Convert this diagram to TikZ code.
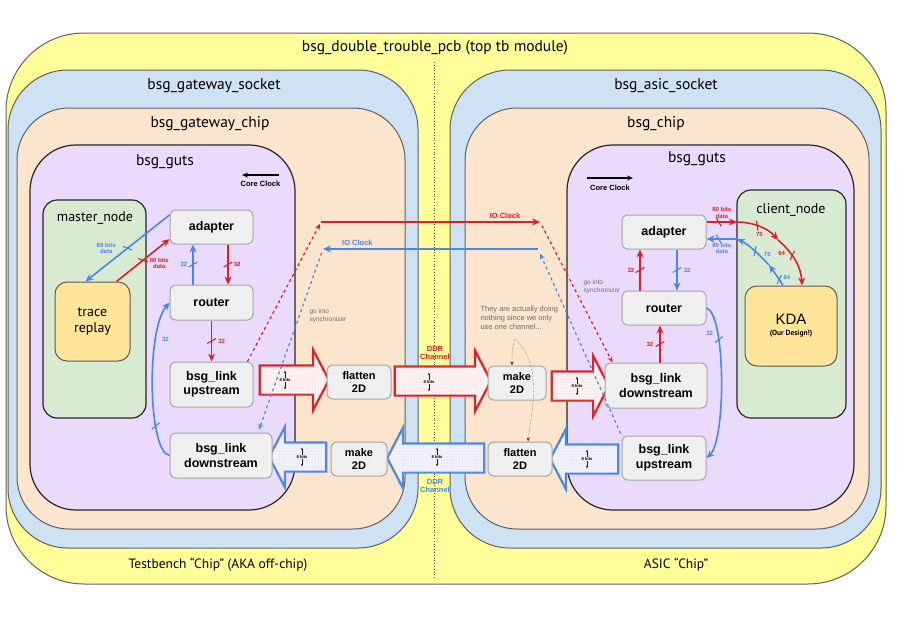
\documentclass[tikz,border=0pt]{standalone}
\usepackage{fontspec}
\setmainfont{Liberation Sans}
\newfontfamily\titlefont{PT Sans}
\usetikzlibrary{arrows.meta,shapes.arrows,patterns}
\definecolor{pcbyellow}{RGB}{255,255,153}
\definecolor{socketblue}{RGB}{207,226,243}
\definecolor{chippeach}{RGB}{252,229,205}
\definecolor{gutspurple}{RGB}{234,219,252}
\definecolor{nodegreen}{RGB}{217,234,211}
\definecolor{kdayellow}{RGB}{255,229,153}
\definecolor{boxgray}{RGB}{239,239,239}
\definecolor{linkred}{RGB}{224,30,40}
\definecolor{linkblue}{RGB}{74,134,232}
\definecolor{notegray}{RGB}{110,110,110}
\tikzset{
    layer/.style = {
        draw = gray!75!black,
        line width = 1pt,
        },
    guts layer/.style = {
        draw = black!85,
        line width = 1.2pt,
        fill = gutspurple,
        rounded corners = 46pt,
        },
    title/.style = {
        font = \titlefont\fontsize{15.5}{17}\selectfont,
        },
    cluster/.style = {
        draw = black!85,
        line width = 1.2pt,
        fill = nodegreen,
        rounded corners = 14pt,
        },
    inner block/.style = {
        draw = gray!70!black,
        line width = 1pt,
        fill = kdayellow,
        rounded corners = 12pt,
        align = center,
        },
    block/.style = {
        draw = gray!70,
        fill = boxgray,
        line width = 1pt,
        rounded corners = 6pt,
        inner sep = 0pt,
        align = center,
        font = \bfseries\fontsize{12.5}{14.5}\selectfont,
        },
    small block/.style = {
        block,
        font = \bfseries\fontsize{11}{13}\selectfont,
        },
    red link/.style = {
        color = linkred,
        line width = 1.6pt,
        -{Stealth[length=8pt,width=7pt]},
        },
    blue link/.style = {
        color = linkblue,
        line width = 1.6pt,
        -{Stealth[length=8pt,width=7pt]},
        },
    red sync/.style = {
        color = linkred,
        dashed,
        line width = 1.2pt,
        -{Stealth[length=6pt,width=5pt]},
        },
    blue sync/.style = {
        color = linkblue,
        dashed,
        line width = 1.2pt,
        -{Stealth[length=6pt,width=5pt]},
        },
    bus tick/.style = {
        draw,
        sloped,
        inner sep = 0pt,
        minimum width = 0pt,
        minimum height = 10pt,
        rotate = 30,
        line width = 1.1pt,
        },
    bus label/.style = {
        font = \bfseries\fontsize{6}{6.5}\selectfont,
        inner sep = 1pt,
        align = center,
        },
    clock label/.style = {
        font = \bfseries\fontsize{7.5}{8}\selectfont,
        inner sep = 1pt,
        align = center,
        },
    note/.style = {
        text = notegray,
        font = \fontsize{6.5}{8}\selectfont,
        align = left,
        anchor = west,
        },
    fat/.style = {
        single arrow,
        inner xsep = 0pt,
        inner ysep = 13.5pt,
        single arrow head extend = 15.5pt,
        single arrow tip angle = 125,
        line width = 2.2pt,
        },
    fat red/.style = {
        fat,
        draw = linkred,
        fill = red!5,
        postaction = {pattern = dots, pattern color = gray!45},
        },
    fat blue/.style = {
        fat,
        draw = linkblue,
        fill = blue!5,
        postaction = {pattern = dots, pattern color = gray!45},
        shape border rotate = 180,
        },
    width label/.style = {
        font = \bfseries\fontsize{4.2}{5}\selectfont,
        inner sep = 0.6pt,
        },
    width arrow/.style = {
        gray!20!black,
        line width = 0.4pt,
        -{Stealth[length=2.5pt,width=2pt]},
        },
}

\begin{document}
\begin{tikzpicture}[x=1pt, y=-1pt]
    \useasboundingbox (0,0) rectangle (909,616);

    % nested modules
    \draw[layer, fill=pcbyellow, rounded corners=78pt] (6,33) rectangle (886,584);
    \draw[layer, fill=socketblue, rounded corners=60pt] (8,70) rectangle (418,548);
    \draw[layer, fill=socketblue, rounded corners=60pt] (450,70) rectangle (881,548);
    \draw[layer, fill=chippeach, rounded corners=52pt] (17,108) rectangle (405,529);
    \draw[layer, fill=chippeach, rounded corners=52pt] (465,108) rectangle (869,529);
    \draw[guts layer] (30,145) rectangle (295,510);
    \draw[guts layer] (567,145) rectangle (854,510);
    \draw[dotted, line width=0.8pt, gray!60!black] (434,62) -- (434,578);

    \node[title] (pcb) at (435,48) {bsg\_double\_trouble\_pcb (top tb module)};
    \node[title] (gwsocket) at (214,86) {bsg\_gateway\_socket};
    \node[title] (asicsocket) at (666,86) {bsg\_asic\_socket};
    \node[title] (gwchip) at (210,124) {bsg\_gateway\_chip};
    \node[title] (asicchip) at (656,124) {bsg\_chip};
    \node[title] (gutsL) at (165,162) {bsg\_guts};
    \node[title] (gutsR) at (697,159) {bsg\_guts};
    \node[title, font=\titlefont\fontsize{13.5}{15}\selectfont] (offchip) at (218,565) {Testbench “Chip” (AKA off-chip)};
    \node[title, font=\titlefont\fontsize{13.5}{15}\selectfont] (onchip) at (676,565) {ASIC “Chip”};

    % fat channel arrows
    \node[fat red, minimum height=69pt] (fa1) at (290.5,380) {};
    \node[fat red, minimum height=96pt] (fa2) at (439,381) {};
    \node[fat red, minimum height=57pt] (fa3) at (576.5,386) {};
    \node[fat blue, minimum height=57pt] (fa4) at (301.5,457) {};
    \node[fat blue, minimum height=97pt] (fa5) at (439.5,458) {};
    \node[fat blue, minimum height=68pt] (fa6) at (588,459) {};
    \foreach \n/\x/\y in {w1/285/380, w2/429/382, w3/577/386, w4/302/457, w5/437/457, w6/587/459} {
        \node[width label] (\n) at (\x,\y) {8 bits};
        \draw[width arrow] (\n.north) -- ++(0,-7);
        \draw[width arrow] (\n.south) -- ++(0,7);
    }
    \node[clock label, text=linkred] (ddrR) at (435,353) {DDR\\Channel};
    \node[clock label, text=linkblue] (ddrB) at (435,486) {DDR\\Channel};

    % gateway side
    \node[cluster, minimum width=103pt, minimum height=218pt] (master) at (94.5,309) {};
    \node[title, font=\titlefont\fontsize{14}{15}\selectfont] (masterT) at (95,218) {master\_node};
    \node[inner block, minimum width=75pt, minimum height=79pt, font=\titlefont\fontsize{14}{16}\selectfont] (trace) at (92.5,321.5) {trace\\replay};
    \node[block, minimum width=83pt, minimum height=34pt] (adL) at (211.5,227) {adapter};
    \node[block, minimum width=83pt, minimum height=35pt] (rtL) at (211.5,302.5) {router};
    \node[block, minimum width=83pt, minimum height=45pt] (upL) at (211.5,384.5) {bsg\_link\\upstream};
    \node[block, minimum width=102pt, minimum height=45pt] (dnL) at (221,455.5) {bsg\_link\\downstream};
    \node[small block, minimum width=64pt, minimum height=34pt] (flatL) at (359,382) {flatten\\2D};
    \node[small block, minimum width=56pt, minimum height=34pt] (makeL) at (359,459) {make\\2D};

    % asic side
    \node[small block, minimum width=58pt, minimum height=34pt] (makeR) at (517,383) {make\\2D};
    \node[small block, minimum width=64pt, minimum height=34pt] (flatR) at (520,459) {flatten\\2D};
    \node[block, minimum width=84pt, minimum height=34pt] (adR) at (664,232) {adapter};
    \node[block, minimum width=84pt, minimum height=34pt] (rtR) at (664,308) {router};
    \node[block, minimum width=102pt, minimum height=45pt] (dnR) at (656,385.5) {bsg\_link\\downstream};
    \node[block, minimum width=84pt, minimum height=44pt] (upR) at (664,458) {bsg\_link\\upstream};
    \node[cluster, minimum width=109pt, minimum height=228pt] (client) at (791.5,304) {};
    \node[title, font=\titlefont\fontsize{14}{15}\selectfont] (clientT) at (791,210) {client\_node};
    \node[inner block, minimum width=92pt, minimum height=80pt] (kda) at (791,326) {\fontsize{15}{17}\selectfont KDA\\[-1pt]\titlefont\bfseries\fontsize{7.5}{9}\selectfont (Our Design!)};

    % core clocks
    \coordinate (ccL1) at (279,175);
    \coordinate (ccL2) at (242,175);
    \draw[line width=1.1pt, -{Stealth[length=6pt,width=5pt]}] (ccL1) -- (ccL2) node[midway, below=5pt, clock label]{Core Clock};
    \coordinate (ccR1) at (587,178);
    \coordinate (ccR2) at (633,178);
    \draw[line width=1.1pt, -{Stealth[length=6pt,width=5pt]}] (ccR1) -- (ccR2) node[midway, below=6pt, clock label]{Core Clock};

    % gateway links
    \draw[red link] ([xshift=-14pt]trace.north east) -- (adL.196) node[pos=.5, bus tick]{} node[pos=.5, bus label, right=5pt, yshift=-3pt]{80 bits\\data};
    \draw[blue link] (adL.164) -- ([xshift=-7pt]trace.north) node[pos=.5, bus tick]{} node[pos=.5, bus label, left=10pt]{80 bits\\data};
    \draw[red link] ([xshift=16.5pt]adL.south) -- ([xshift=16.5pt]rtL.north) node[pos=.5, bus tick]{} node[pos=.5, bus label, right=4pt]{32};
    \draw[blue link] ([xshift=-18.5pt]rtL.north) -- ([xshift=-18.5pt]adL.south) node[pos=.5, bus tick]{} node[pos=.5, bus label, left=4pt]{32};
    \draw[red link] (rtL) -- (upL) node[pos=.5, bus tick]{} node[pos=.5, bus label, right=5pt]{32};
    \draw[blue link] (dnL.west) .. controls (148,452) and (146,330) .. (rtL.west) node[pos=.3, bus tick]{} node[pos=.74, bus label, right=4pt]{32};

    % asic links
    \draw[red link] ([xshift=-24pt]rtR.north) -- ([xshift=-24pt]adR.south) node[pos=.5, bus tick]{} node[pos=.5, bus label, left=4pt]{32};
    \draw[blue link] ([xshift=13pt]adR.south) -- ([xshift=13pt]rtR.north) node[pos=.5, bus tick]{} node[pos=.5, bus label, right=5pt]{32};
    \draw[red link] ([xshift=4pt]dnR.north) -- ([xshift=-4pt]rtR.south) node[pos=.5, bus tick]{} node[pos=.5, bus label, left=5pt]{32};
    \draw[blue link] (rtR.east) .. controls (726,314) and (726,440) .. (upR.east) node[pos=.3, bus tick]{} node[pos=.26, bus label, left=3pt]{32};

    \coordinate (cinR) at (737,222);
    \coordinate (coutR) at (737,239);
    \coordinate (r75) at (778,240);
    \coordinate (b64) at (769,265);
    \draw[red link] (adR.east |- cinR) -- (cinR) node[pos=.4, bus tick]{} node[pos=.5, bus label, above=2pt]{80 bits\\data};
    \draw[blue link] (coutR) -- (adR.east |- coutR) node[pos=.6, bus tick]{} node[pos=.5, bus label, below=2pt]{80 bits\\data};
    \draw[red link] (cinR) .. controls (752,222) and (768,228) .. (r75) node[pos=.45, bus tick]{} node[pos=.5, bus label, below=4pt]{75};
    \draw[red link] (r75) .. controls (792,252) and (801,266) .. ([xshift=11pt]kda.north) node[pos=.4, bus tick]{} node[pos=.35, bus label, left=4pt]{64};
    \draw[blue link] ([xshift=-8pt]kda.north) .. controls (779,279) .. (b64) node[pos=.4, bus tick]{} node[pos=.55, bus label, right=4pt]{64};
    \draw[blue link] (b64) .. controls (759,254) and (748,244) .. (coutR) node[pos=.45, bus tick]{} node[pos=.35, bus label, right=4pt]{75};

    % io clocks
    \coordinate (ioR1) at (321,222);
    \coordinate (ioR2) at (540,222);
    \coordinate (ioB1) at (538,249);
    \coordinate (ioB2) at (323,249);
    \draw[red link] (ioR1) -- (ioR2) node[pos=.84, above=2pt, clock label]{IO Clock};
    \draw[blue link] (ioB1) -- (ioB2) node[pos=.84, above=2pt, clock label]{IO Clock};
    \draw[red sync, shorten >=2pt] ([xshift=36pt]upL.north) -- (ioR1);
    \draw[red sync, shorten <=4pt] (ioR2) -- ([xshift=8pt]dnR.north west);
    \draw[blue sync, shorten <=2pt, shorten >=5pt] (upR.north west) -- (ioB1);
    \draw[blue sync, shorten <=4pt, shorten >=3pt] (ioB2) -- ([xshift=37pt]dnL.north);
    \node[note] (syncL) at (306,316) {go into\\synchronizer};
    \node[note] (syncR) at (580,287) {go into\\synchronizer};

    % note on the 2D blocks
    \node[note, font=\fontsize{7.5}{9}\selectfont] (idle) at (477,318) {They are actually doing\\nothing since we only\\use one channel...};
    \coordinate (idleTip) at (515,339);
    \draw[densely dotted, gray!40!black, -{Stealth[length=4pt,width=3pt]}] (idleTip) .. controls (512,350) .. ([xshift=-5pt]makeR.north);
    \draw[densely dotted, gray!40!black, -{Stealth[length=4pt,width=3pt]}] (idleTip) .. controls (545,365) and (530,420) .. ([xshift=8pt]flatR.north);
\end{tikzpicture}
\end{document}
